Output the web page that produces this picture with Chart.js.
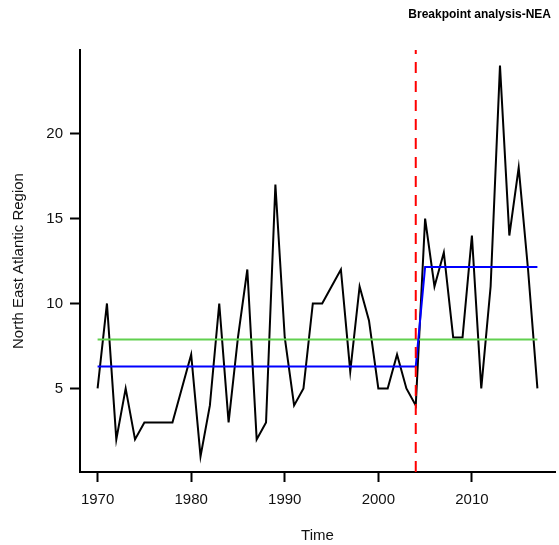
<!DOCTYPE html>
<html>
<head>
<meta charset="utf-8">
<title>Breakpoint analysis-NEA</title>
<script src="https://cdn.jsdelivr.net/npm/chart.js@4.4.1/dist/chart.umd.min.js"></script>
<style>
  html, body { margin: 0; padding: 0; background: #ffffff; }
  canvas { display: block; }
</style>
</head>
<body>
<canvas id="chart" width="559" height="545"></canvas>
<script>
// Annual counts, North East Atlantic region
const years = [
  1970, 1971, 1972, 1973, 1974, 1975, 1976, 1977, 1978, 1979,
  1980, 1981, 1982, 1983, 1984, 1985, 1986, 1987, 1988, 1989,
  1990, 1991, 1992, 1993, 1994, 1995, 1996, 1997, 1998, 1999,
  2000, 2001, 2002, 2003, 2004, 2005, 2006, 2007, 2008, 2009,
  2010, 2011, 2012, 2013, 2014, 2015, 2016, 2017
];
const counts = [
  5, 10, 2, 5, 2, 3, 3, 3, 3, 5,
  7, 1, 4, 10, 3, 8, 12, 2, 3, 17,
  8, 4, 5, 10, 10, 11, 12, 6, 11, 9,
  5, 5, 7, 5, 4, 15, 11, 13, 8, 8,
  14, 5, 11, 24, 14, 18, 12, 5
];
const breakYear = 2004;
const xTicks = [1970, 1980, 1990, 2000, 2010];
const yTicks = [5, 10, 15, 20];

// R-style axis limits: data range padded by 4% on each side
const pad = (lo, hi) => [lo - 0.04 * (hi - lo), hi + 0.04 * (hi - lo)];
const [xMin, xMax] = pad(Math.min(...years), Math.max(...years));
const [yMin, yMax] = pad(Math.min(...counts), Math.max(...counts));

const mean = a => a.reduce((s, v) => s + v, 0) / a.length;
const before = counts.filter((v, i) => years[i] <= breakYear);
const after = counts.filter((v, i) => years[i] > breakYear);
const overallMean = mean(counts);
const fitted = years.map(y => (y <= breakYear ? mean(before) : mean(after)));

const series = years.map((y, i) => ({ x: y, y: counts[i] }));
const fittedPts = years.map((y, i) => ({ x: y, y: fitted[i] }));
const meanPts = [
  { x: years[0], y: overallMean },
  { x: years[years.length - 1], y: overallMean }
];
const breakPts = [{ x: breakYear, y: yMin }, { x: breakYear, y: yMax }];

const FONT = '"Liberation Sans", Arial, sans-serif';

// Small bold heading at the top right
const headingPlugin = {
  id: 'heading',
  afterDraw(chart) {
    const ctx = chart.ctx;
    ctx.save();
    ctx.font = 'bold 12px ' + FONT;
    ctx.fillStyle = '#000';
    ctx.textAlign = 'right';
    ctx.textBaseline = 'middle';
    ctx.fillText('Breakpoint analysis-NEA', 551, 15);
    ctx.restore();
  }
};

new Chart(document.getElementById('chart'), {
  type: 'line',
  data: {
    datasets: [
      {
        label: 'Breakpoint',
        data: breakPts,
        borderColor: '#ff0000',
        borderWidth: 2,
        borderDash: [11, 8],
        pointRadius: 0,
        order: 0
      },
      {
        label: 'Segment means',
        data: fittedPts,
        borderColor: '#0000ff',
        borderWidth: 2,
        pointRadius: 0,
        order: 1
      },
      {
        label: 'Overall mean',
        data: meanPts,
        borderColor: '#61d04f',
        borderWidth: 2,
        pointRadius: 0,
        order: 2
      },
      {
        label: 'North East Atlantic Region',
        data: series,
        borderColor: '#000000',
        borderWidth: 2,
        pointRadius: 0,
        tension: 0,
        order: 3
      }
    ]
  },
  options: {
    responsive: false,
    animation: false,
    devicePixelRatio: 1,
    layout: { padding: { top: 50, right: 4, left: 0, bottom: 0 } },
    plugins: {
      legend: { display: false },
      tooltip: { enabled: false },
      title: { display: false }
    },
    scales: {
      x: {
        type: 'linear',
        min: xMin,
        max: xMax,
        afterFit(s) { s.height = 73; },
        afterBuildTicks(s) { s.ticks = xTicks.map(v => ({ value: v })); },
        border: { display: true, color: '#000', width: 2 },
        grid: { drawOnChartArea: false, drawTicks: true, tickLength: 10, tickColor: '#000', tickWidth: 2 },
        ticks: {
          color: '#111',
          font: { family: FONT, size: 15 },
          padding: 9,
          maxRotation: 0,
          autoSkip: false,
          callback: v => String(v)
        },
        title: {
          display: true,
          text: 'Time',
          color: '#111',
          font: { family: FONT, size: 15 },
          padding: { top: -2, bottom: 0 }
        }
      },
      y: {
        type: 'linear',
        min: yMin,
        max: yMax,
        afterFit(s) { s.width = 80; },
        afterBuildTicks(s) { s.ticks = yTicks.map(v => ({ value: v })); },
        border: { display: true, color: '#000', width: 2 },
        grid: { drawOnChartArea: false, drawTicks: true, tickLength: 10, tickColor: '#000', tickWidth: 2 },
        ticks: {
          color: '#111',
          font: { family: FONT, size: 15 },
          padding: 7,
          autoSkip: false,
          callback: v => String(v)
        },
        title: {
          display: true,
          text: 'North East Atlantic Region',
          color: '#111',
          font: { family: FONT, size: 15 },
          padding: { top: 10, bottom: 0 }
        }
      }
    }
  },
  plugins: [headingPlugin]
});
</script>
</body>
</html>
